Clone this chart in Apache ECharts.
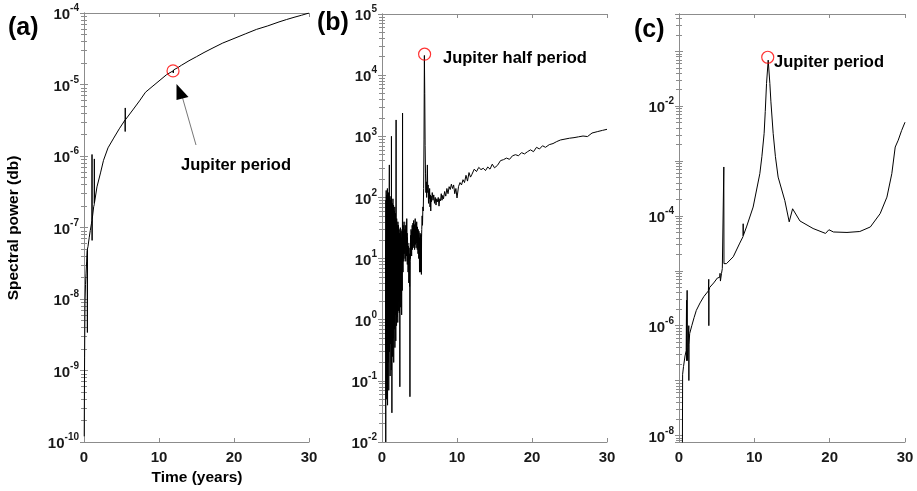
<!DOCTYPE html>
<html><head><meta charset="utf-8">
<script src="https://cdn.jsdelivr.net/npm/echarts@6/dist/echarts.min.js"></script>
<style>html,body{margin:0;padding:0;background:#fff}#c{width:917px;height:491px}</style>
</head><body><div id="c"></div>
<script>
// ---------- Panel (a) ----------
const aX = [0.03,0.05,0.08,0.13,0.2,0.27,0.35,0.44,0.45,0.46,0.53,0.7,0.84,1.0,1.06,1.07,1.08,1.09,1.29,1.37,1.38,1.39,1.73,2.2,2.6,3.2,3.96,4.7,5.48,5.49,5.5,5.51,6.5,7.4,8.2,9.07,10.0,11.0,11.87,11.9,11.95,12.5,13.0,14.0,15.0,16.0,17.2,18.5,20.0,21.5,23.0,24.5,26.0,27.0,28.0,29.0,30.0];
const aY = [1.2e-10,4e-10,1.5e-9,8.7e-9,1.6e-8,2.3e-8,3.3e-8,4.8e-8,3.4e-9,5.0e-8,5.4e-8,7.3e-8,9.1e-8,1.15e-7,1.25e-7,1.05e-6,6.6e-8,1.3e-7,1.95e-7,2.1e-7,9.1e-7,2.2e-7,3.7e-7,5.8e-7,8.7e-7,1.3e-6,1.78e-6,2.4e-6,3.2e-6,2.2e-6,4.7e-6,3.2e-6,4.4e-6,5.9e-6,7.8e-6,9.3e-6,1.12e-5,1.37e-5,1.55e-5,1.45e-5,1.6e-5,1.72e-5,1.86e-5,2.15e-5,2.45e-5,2.8e-5,3.25e-5,3.8e-5,4.4e-5,5.1e-5,5.9e-5,6.6e-5,7.5e-5,8.1e-5,8.7e-5,9.3e-5,1.0e-4];
const aMark = [11.87, 1.55e-5];

// ---------- Panel (b) ----------
const bX = [0.48,0.50,0.52,0.54,0.56,0.58,0.60,0.62,0.64,0.66,0.68,0.70,0.72,0.74,0.76,0.78,0.80,0.82,0.84,0.86,0.88,0.90,0.92,0.94,0.96,0.98,1.00,1.02,1.04,1.06,1.08,1.10,1.12,1.14,1.16,1.18,1.20,1.22,1.24,1.26,1.28,1.30,1.32,1.34,1.36,1.38,1.40,1.42,1.44,1.46,1.48,1.50,1.52,1.54,1.56,1.58,1.60,1.62,1.64,1.66,1.68,1.70,1.72,1.74,1.76,1.78,1.80,1.82,1.84,1.86,1.88,1.90,1.92,1.94,1.96,1.98,2.00,2.02,2.04,2.06,2.08,2.10,2.12,2.14,2.16,2.18,2.20,2.22,2.24,2.26,2.28,2.30,2.32,2.34,2.36,2.38,2.40,2.42,2.44,2.46,2.48,2.50,2.52,2.54,2.56,2.58,2.60,2.62,2.64,2.66,2.68,2.70,2.72,2.74,2.76,2.78,2.80,2.82,2.85,2.88,2.91,2.94,2.97,
3.000,3.025,3.050,3.075,3.100,3.125,3.150,3.175,3.200,3.225,3.250,3.275,3.300,3.325,3.350,3.375,3.400,3.425,3.450,3.475,3.500,3.525,3.550,3.575,3.600,3.625,3.650,3.675,3.700,3.725,3.750,3.775,3.800,3.825,3.850,3.875,3.900,3.925,3.950,3.975,4.000,4.025,4.050,4.075,4.100,4.125,4.150,4.175,4.200,4.225,4.250,4.275,4.300,4.325,4.350,4.375,4.400,4.425,4.450,4.475,4.500,4.525,4.550,4.575,4.600,4.625,4.650,4.675,4.700,4.725,4.750,4.775,4.800,4.825,4.850,4.875,4.900,4.925,4.950,4.975,5.000,5.025,5.050,5.075,5.100,5.125,5.150,5.175,5.200,5.225,5.250,5.275,5.300,
5.35,5.40,5.45,5.50,5.55,5.60,5.65,5.70,5.75,5.80,5.85,5.90,5.95,6.05,6.10,6.15,6.20,6.25,6.30,6.35,6.40,6.45,6.50,6.55,6.60,6.70,6.80,6.90,7.00,7.10,7.20,7.30,7.40,7.50,7.60,7.70,7.80,7.90,8.00,8.10,8.20,8.35,8.50,8.65,8.80,8.95,9.10,9.25,9.40,9.55,9.70,9.85,10.0,10.2,10.4,10.6,10.8,11.0,11.2,11.4,11.6,11.8,12.0,12.3,12.6,12.9,13.2,13.5,13.8,14.1,14.4,14.7,15.0,15.4,15.8,16.2,16.6,17.0,17.4,17.8,18.2,18.6,19.0,19.4,19.8,20.2,20.6,21.0,21.4,21.8,22.3,22.8,23.3,23.8,24.4,25.0,25.6,26.2,26.8,27.4,28.0,28.7,29.4,30.0];
const bY = [20,0.01,90,0.3,130,0.05,70,1.2,110,0.1,60,0.6,140,0.04,85,2,100,0.2,50,0.9,120,0.07,75,3,95,340,0.3,65,1.5,105,0.12,55,0.8,90,0.4,45,2.5,100,0.15,1000,0.6,70,0.03,60,1.8,80,0.25,40,4,95,0.5,50,1,75,0.2,35,6,60,0.7,45,2,70,0.35,30,5,55,1.2,25,0.45,40,1850,1.5,30,0.8,45,3,25,1.1,35,8,20,0.9,40,4,28,1.4,35,6,22,2,30,1.3,18,5,26,0.08,20,3,32,8,24,1.6,20,6,28,2.5,16,1.2,22,7,30,3,18,2400,10,25,6,35,12,28,9,40,14,
25,12,30,10,35,16,22,9,28,14,40,11,45,18,26,8,22,12,18,6,16,9,14,4,15,7,12,3.5,11,0.055,9,18,10,24,12,30,15,22,11,28,16,35,14,30,20,38,15,26,18,42,16,30,20,36,14,28,22,45,17,30,19,38,15,26,21,40,18,28,14,33,20,25,12,30,17,24,10,28,15,22,6,20,12,26,8,24,6,20,10,25,5.5,22,30,
50,35,70,60,140,900,21000,5000,700,250,120,180,100,340,120,160,80,130,95,140,70,110,60,105,85,120,90,110,80,100,75,95,85,100,72,95,88,115,90,108,95,125,105,140,115,150,135,165,140,160,115,140,98,150,175,160,195,175,230,185,255,215,240,290,265,310,285,300,275,315,290,350,305,335,400,415,440,420,480,500,480,540,515,560,600,560,660,620,700,660,730,760,820,870,900,930,950,980,1010,990,1130,1190,1250,1300];
const bMark = [5.68, 2.2e4];

// ---------- Panel (c) ----------
const cX = [0.45,0.48,0.6,0.8,0.95,1.0,1.02,1.07,1.08,1.09,1.2,1.3,1.31,1.32,1.42,1.7,2.0,2.3,2.8,3.3,3.9,3.95,3.96,3.97,4.08,4.6,5.1,5.4,5.45,5.5,5.64,5.75,5.95,5.97,6.3,7.2,8.07,8.5,8.52,8.54,8.96,9.84,10.73,11.0,11.3,11.45,11.62,11.84,12.06,12.2,12.5,12.8,13.16,14.05,14.63,15.08,16.05,17.8,19.45,19.9,20.5,22.3,24.0,25.4,26.7,27.6,28.25,28.7,29.1,29.55,30.0];
const cY = [5e-9,1.3e-7,1.8e-7,2.8e-7,3.5e-7,2.9e-6,2.3e-7,4e-7,4.4e-6,2.3e-7,4e-7,1e-6,1e-7,4.5e-7,7.2e-7,1.0e-6,1.4e-6,1.9e-6,2.6e-6,3.4e-6,4.3e-6,7e-6,1e-6,4.4e-6,5e-6,6e-6,7.4e-6,7.6e-6,9e-6,6.5e-6,8.9e-6,1.1e-5,7.8e-4,1.35e-5,1.35e-5,1.8e-5,3.2e-5,4.2e-5,7.2e-5,4.4e-5,6.3e-5,1.45e-4,5.9e-4,1.2e-3,3.2e-3,8e-3,0.026,0.069,0.026,0.012,3.2e-3,1.2e-3,5.1e-4,1.9e-4,7.8e-5,1.35e-4,8.1e-5,5.9e-5,4.8e-5,5.6e-5,5.1e-5,5.0e-5,5.2e-5,6.3e-5,1.1e-4,2.2e-4,5.9e-4,1.8e-3,2.4e-3,3.6e-3,5.1e-3];
const cMark = [11.78, 0.078];

// ---------- Axis ticks ----------
const xTicks = [0, 10, 20, 30];
const aRange = [1e-10, 1e-4];
const bRange = [1e-2, 1e5];
const cRange = [Math.pow(10, -8.12), Math.pow(10, -0.32)];

const FONT = '"Liberation Sans", Arial, sans-serif';
const AXC = '#8c8c8c';
const TXT = '#1a1a1a';

function zip(xs, ys) { return xs.map((x, i) => [x, ys[i]]); }

function supFmt(evenOnly) {
  return function (v) {
    const l = Math.log10(v);
    const e = Math.round(l);
    if (Math.abs(l - e) > 1e-6) return '';
    if (evenOnly && e % 2 !== 0) return '';
    return '{b|10}{s|' + e + '}';
  };
}
const rich = {
  b: { fontSize: 15, fontWeight: 'bold', fontFamily: FONT, color: TXT, lineHeight: 19, verticalAlign: 'bottom' },
  s: { fontSize: 10, fontWeight: 'bold', fontFamily: FONT, color: TXT, lineHeight: 19, verticalAlign: 'top' }
};

const grids = [
  { left: 84, top: 13, width: 225, height: 429 },
  { left: 382, top: 14, width: 225, height: 428 },
  { left: 679, top: 14, width: 226, height: 428 }
];

const xAxis = [], yAxis = [];
grids.forEach((g, i) => {
  xAxis.push({
    type: 'value', gridIndex: i, min: xTicks[0], max: xTicks[xTicks.length - 1], interval: 10,
    position: 'bottom',
    axisLine: { show: true, lineStyle: { color: AXC, width: 1 } },
    axisTick: { show: true, inside: true, length: 4, lineStyle: { color: AXC } },
    splitLine: { show: false },
    axisLabel: { show: true, fontSize: 15, fontWeight: 'bold', fontFamily: FONT, color: TXT, margin: 8 }
  });
  xAxis.push({
    type: 'value', gridIndex: i, min: xTicks[0], max: xTicks[xTicks.length - 1], interval: 10,
    position: 'top',
    axisLine: { show: true, lineStyle: { color: AXC, width: 1 } },
    axisTick: { show: true, inside: true, length: 4, lineStyle: { color: AXC } },
    splitLine: { show: false },
    axisLabel: { show: false }
  });
  const rng = [aRange, bRange, cRange][i];
  const common = {
    type: 'log', logBase: 10, gridIndex: i, min: rng[0], max: rng[1], splitNumber: 8,
    axisLine: { show: true, lineStyle: { color: AXC, width: 1 } },
    axisTick: { show: true, inside: true, length: 4, lineStyle: { color: AXC } },
    minorTick: { show: true, splitNumber: 9, length: 3, lineStyle: { color: AXC } },
    splitLine: { show: false }, minorSplitLine: { show: false }
  };
  yAxis.push(Object.assign({}, common, {
    position: 'left',
    axisLabel: { show: true, formatter: supFmt(i === 2), rich: rich, margin: 5, showMinLabel: true, showMaxLabel: true }
  }));
  yAxis.push(Object.assign({}, common, {
    position: 'right', axisLabel: { show: false }
  }));
});

function lineSeries(i, xs, ys) {
  return {
    type: 'line', xAxisIndex: 2 * i, yAxisIndex: 2 * i, data: zip(xs, ys),
    showSymbol: false, symbol: 'none', animation: false, clip: true,
    lineStyle: { color: '#000', width: 1 }
  };
}
function markSeries(i, m) {
  return {
    type: 'scatter', xAxisIndex: 2 * i, yAxisIndex: 2 * i, data: [m],
    symbol: 'circle', symbolSize: 12, z: 5, animation: false,
    itemStyle: { color: 'rgba(0,0,0,0)', borderColor: '#ff0000', borderWidth: 1.2 }
  };
}

const bold = (size) => ({ fontSize: size, fontWeight: 'bold', fontFamily: FONT, fill: '#000' });

const option = {
  backgroundColor: '#fff',
  animation: false,
  grid: grids,
  xAxis: xAxis,
  yAxis: yAxis,
  series: [
    lineSeries(0, aX, aY), markSeries(0, aMark),
    lineSeries(1, bX, bY), markSeries(1, bMark),
    lineSeries(2, cX, cY), markSeries(2, cMark)
  ],
  graphic: [
    { type: 'text', style: Object.assign({ x: 8, y: 28, text: '(a)', verticalAlign: 'middle' }, bold(25)) },
    { type: 'text', style: Object.assign({ x: 317, y: 23, text: '(b)', verticalAlign: 'middle' }, bold(25)) },
    { type: 'text', style: Object.assign({ x: 634, y: 30, text: '(c)', verticalAlign: 'middle' }, bold(25)) },
    { type: 'text', x: 14, y: 228, rotation: Math.PI / 2,
      style: Object.assign({ x: 0, y: 0, text: 'Spectral power (db)', align: 'center', verticalAlign: 'middle' }, bold(15.5)) },
    { type: 'text', style: Object.assign({ x: 197, y: 478, text: 'Time (years)', align: 'center', verticalAlign: 'middle' }, bold(15.5)) },
    { type: 'text', style: Object.assign({ x: 181, y: 165, text: 'Jupiter period', verticalAlign: 'middle' }, bold(16.5)) },
    { type: 'text', style: Object.assign({ x: 443, y: 58, text: 'Jupiter half period', verticalAlign: 'middle' }, bold(16.5)) },
    { type: 'text', style: Object.assign({ x: 774, y: 62, text: 'Jupiter period', verticalAlign: 'middle' }, bold(16.5)) },
    { type: 'line', shape: { x1: 196, y1: 145, x2: 182, y2: 96 }, style: { stroke: '#777', lineWidth: 1 } },
    { type: 'polygon', shape: { points: [[176.5, 84], [176.5, 100], [188.5, 97]] }, style: { fill: '#000' } }
  ]
};

const chart = echarts.init(document.getElementById('c'), null, { renderer: 'canvas' });
chart.setOption(option);
</script></body></html>
